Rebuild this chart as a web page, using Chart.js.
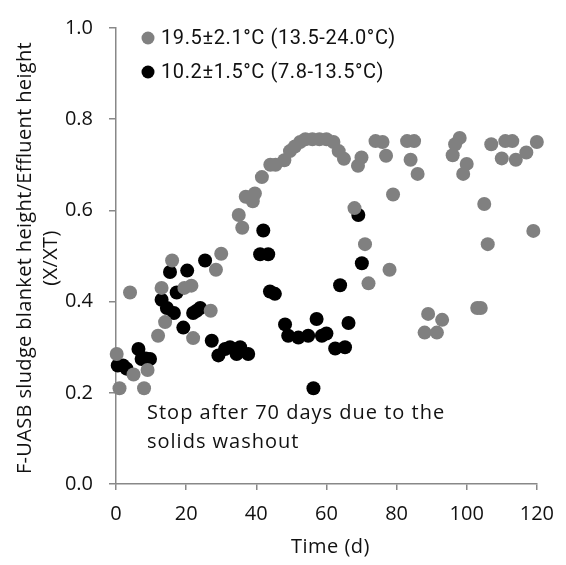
<!DOCTYPE html>
<html>
<head>
<meta charset="utf-8">
<script src="https://cdn.jsdelivr.net/npm/chart.js@4.4.0/dist/chart.umd.min.js"></script>
<style>
  html, body { margin: 0; padding: 0; background: #fff; }
  #wrap { width: 566px; height: 565px; }
</style>
</head>
<body>
<div id="wrap"><canvas id="scatterChart1" width="566" height="565"></canvas></div>
<script>
// datos
var warmLabel = "19.5\u00b12.1\u00b0C (13.5-24.0\u00b0C)";
var warmDays = [0.2, 1, 4, 5, 8, 9, 12, 13, 14, 16, 19.5, 21.5, 22, 27, 28.5, 30,
    35, 36, 37, 39, 39.6, 41.6, 44, 45.5, 48, 49.6, 51, 52.5, 54, 56, 58, 60, 62,
    63.5, 65, 68, 69, 70, 71, 72, 74, 76, 77, 78, 79, 83, 84, 85, 86, 88, 89, 91.5,
    93, 96, 96.7, 98, 99, 100, 103, 104, 105, 106, 107, 110, 111, 113, 114, 117, 119, 120];
var warmRatio = [0.285, 0.21, 0.42, 0.24, 0.21, 0.25, 0.325, 0.43, 0.355, 0.49, 0.43, 0.435, 0.32, 0.38, 0.47, 0.505,
    0.59, 0.562, 0.63, 0.62, 0.637, 0.673, 0.70, 0.70, 0.71, 0.73, 0.74, 0.75, 0.756, 0.756, 0.756, 0.756, 0.75,
    0.73, 0.713, 0.605, 0.698, 0.716, 0.526, 0.44, 0.752, 0.75, 0.72, 0.47, 0.635, 0.752, 0.711, 0.752, 0.68, 0.332, 0.373, 0.332,
    0.36, 0.721, 0.745, 0.759, 0.68, 0.702, 0.386, 0.386, 0.614, 0.526, 0.745, 0.714, 0.752, 0.752, 0.711, 0.727, 0.555, 0.75];

var coldLabel = "10.2\u00b11.5\u00b0C (7.8-13.5\u00b0C)";
var coldDays = [0.5, 2, 3, 6.4, 7.3, 8.5, 9.7, 13, 14.5, 15.4, 16.5, 17.3, 19.2, 20.3, 22, 23, 24, 25.4,
    27.3, 29.2, 31.1, 32.5, 34.4, 35.4, 37.7, 41.1, 42, 43.4, 43.9, 45.3, 48.2, 49.1, 52, 54.8, 56.3,
    57.2, 58.7, 60, 62.5, 63.9, 65.3, 66.3, 69.1, 70.1];
var coldRatio = [0.26, 0.26, 0.253, 0.296, 0.274, 0.275, 0.274, 0.404, 0.386, 0.465, 0.375, 0.42, 0.343, 0.468, 0.375, 0.38, 0.386, 0.49,
    0.314, 0.282, 0.296, 0.30, 0.285, 0.30, 0.285, 0.504, 0.556, 0.504, 0.422, 0.417, 0.35, 0.325, 0.321, 0.325, 0.21,
    0.362, 0.325, 0.33, 0.297, 0.436, 0.30, 0.353, 0.59, 0.484];

var xTitle = "Time (d)";
var yTitle = ["F-UASB sludge blanket height/Effluent height", "(X/XT)"];
var noteLines = ["Stop after 70 days due to the", "solids washout"];

function toPoints(xs, ys) {
    var out = [];
    for (var i = 0; i < xs.length; i++) out.push({ x: xs[i], y: ys[i] });
    return out;
}

var axisColor = "#888888";
var fontFace = "'Open Sans', 'DejaVu Sans', sans-serif";

// leyenda, titulos de ejes y nota
var extrasPlugin = {
    id: "extras",
    afterDraw: function (chart) {
        var ctx = chart.ctx;
        var area = chart.chartArea;
        ctx.save();
        ctx.fillStyle = "#111";

        // leyenda
        ctx.font = "20px Roboto, sans-serif";
        ctx.letterSpacing = "0.6px";
        ctx.textBaseline = "middle";
        ctx.textAlign = "left";
        chart.data.datasets.forEach(function (ds, i) {
            var cy = 38 + i * 34;
            ctx.beginPath();
            ctx.fillStyle = ds.backgroundColor;
            ctx.arc(148, cy, 6.5, 0, Math.PI * 2);
            ctx.fill();
            ctx.fillStyle = "#111";
            ctx.fillText(ds.label, 161, cy + 1);
        });

        // nota
        ctx.font = "20px " + fontFace;
        ctx.letterSpacing = "1px";
        ctx.fillText(noteLines[0], 147, 413);
        ctx.fillText(noteLines[1], 147, 442);

        // titulo eje x
        ctx.letterSpacing = "0.5px";
        ctx.textAlign = "center";
        ctx.fillText(xTitle, (area.left + area.right) / 2 + 4, 547);

        // titulo eje y
        var cy = (area.top + area.bottom) / 2 + 2;
        ctx.letterSpacing = "0.35px";
        ctx.translate(25, cy);
        ctx.rotate(-Math.PI / 2);
        ctx.fillText(yTitle[0], 0, 0);
        ctx.fillText(yTitle[1], 0, 26);
        ctx.restore();
    },
};

var ctx1 = document.getElementById("scatterChart1").getContext("2d");
var scatterChart1 = new Chart(ctx1, {
    type: "scatter",
    data: {
        datasets: [
            {
                label: warmLabel,
                data: toPoints(warmDays, warmRatio),
                backgroundColor: "#808080",
                borderColor: "#808080",
                pointRadius: 7,
                borderWidth: 0,
            },
            {
                label: coldLabel,
                data: toPoints(coldDays, coldRatio),
                backgroundColor: "#000000",
                borderColor: "#000000",
                pointRadius: 7,
                borderWidth: 0,
            },
        ],
    },
    options: {
        responsive: false,
        animation: false,
        clip: false,
        layout: { padding: { top: 20, right: 29, bottom: 0, left: 0 } },
        plugins: {
            legend: { display: false },
            tooltip: { enabled: false },
        },
        scales: {
            x: {
                type: "linear",
                min: 0,
                max: 120,
                afterFit: function (scale) { scale.height = 81; },
                ticks: {
                    stepSize: 20,
                    padding: 12,
                    color: "#111",
                    font: { family: fontFace, size: 20 },
                },
                grid: { drawOnChartArea: false, drawTicks: true, tickLength: 6, color: axisColor, lineWidth: 1.5 },
                border: { color: axisColor, width: 1.5 },
            },
            y: {
                type: "linear",
                min: 0,
                max: 1,
                afterFit: function (scale) { scale.width = 116; },
                ticks: {
                    stepSize: 0.2,
                    padding: 16,
                    color: "#111",
                    font: { family: fontFace, size: 20 },
                    callback: function (v) { return v.toFixed(1); },
                },
                grid: { drawOnChartArea: false, drawTicks: true, tickLength: 7, color: axisColor, lineWidth: 1.5 },
                border: { color: axisColor, width: 1.5 },
            },
        },
    },
    plugins: [extrasPlugin],
});
</script>
</body>
</html>
